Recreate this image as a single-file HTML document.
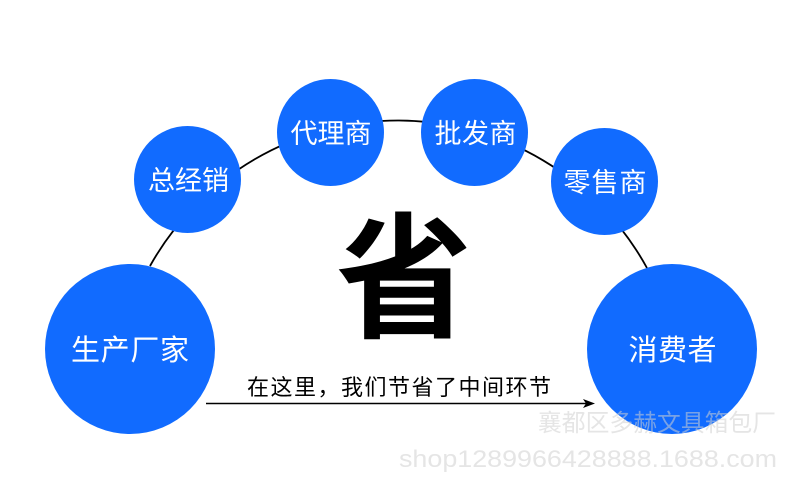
<!DOCTYPE html>
<html><head><meta charset="utf-8"><style>
html,body{margin:0;padding:0;background:#fff}
svg{display:block}
text{font-family:"Liberation Sans","Noto Sans CJK SC",sans-serif}
</style></head><body>
<svg width="800" height="490" viewBox="0 0 800 490" xmlns="http://www.w3.org/2000/svg">
<rect width="800" height="490" fill="#fff"/>
<path d="M150 266 A284 284 0 0 1 647 268" fill="none" stroke="#000" stroke-width="1.800"/>
<g fill="#116bff">
<circle cx="130" cy="349" r="85"/>
<circle cx="187.500" cy="179.500" r="53.500"/>
<circle cx="330.500" cy="132.500" r="53.500"/>
<circle cx="474.500" cy="132.500" r="53.500"/>
<circle cx="604.500" cy="181.500" r="53.500"/>
<circle cx="672" cy="349" r="85"/>
</g>
<g fill="#fff" text-anchor="middle" font-weight="400">
<text x="130" y="360" font-size="29" textLength="118">生产厂家</text>
<text x="188.500" y="190" font-size="27" textLength="81">总经销</text>
<text x="331" y="143" font-size="27" textLength="81">代理商</text>
<text x="475.500" y="143" font-size="27" textLength="82">批发商</text>
<text x="605" y="192" font-size="27" textLength="83">零售商</text>
<text x="672.500" y="360" font-size="29" textLength="88">消费者</text>
</g>
<text x="404" y="327" font-size="136" font-weight="700" text-anchor="middle" fill="#000">省</text>
<text x="399" y="395" font-size="22" text-anchor="middle" fill="#000" textLength="304">在这里，我们节省了中间环节</text>
<line x1="206" y1="403.500" x2="586" y2="403.500" stroke="#000" stroke-width="1.500"/>
<path d="M583 399 L595 403.500 L583 408 L586 403.500 Z" fill="#000"/>
<g fill="#cfcfcf" fill-opacity=".55" text-anchor="middle">
<text x="657" y="431" font-size="24" textLength="238" lengthAdjust="spacingAndGlyphs">襄都区多赫文具箱包厂</text>
<text x="588" y="467" font-size="24" textLength="378" lengthAdjust="spacingAndGlyphs">shop1289966428888.1688.com</text>
</g>
</svg>
</body></html>
